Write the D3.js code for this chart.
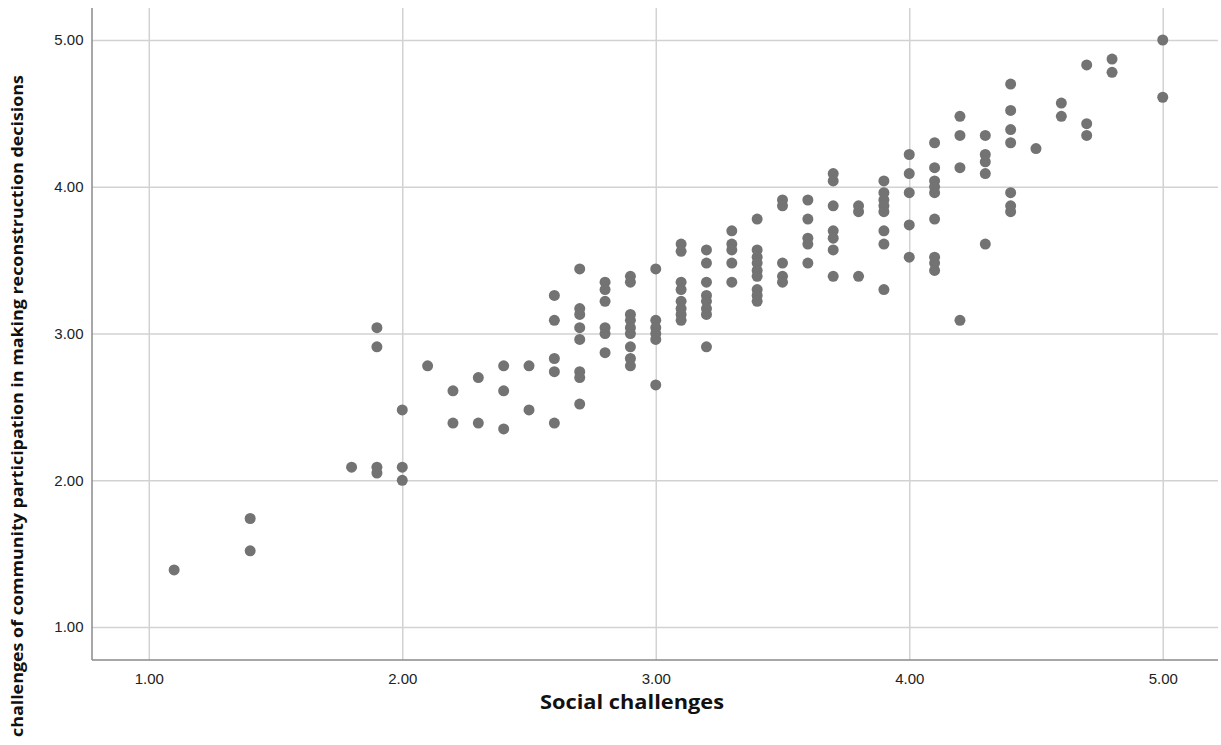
<!DOCTYPE html>
<html>
<head>
<meta charset="utf-8">
<script src="https://cdn.jsdelivr.net/npm/d3@7/dist/d3.min.js"></script>
<style>
  html, body { margin: 0; padding: 0; background: #fff; }
  svg { display: block; }
</style>
</head>
<body>
<svg id="chart" width="1221" height="745"></svg>
<script>
// Social challenges (x) and challenges of community participation (y)
const socialChallenges = [
  1.1,
  1.4, 1.4,
  1.8,
  1.9, 1.9, 1.9, 1.9,
  2.0, 2.0, 2.0,
  2.1,
  2.2, 2.2,
  2.3, 2.3,
  2.4, 2.4, 2.4,
  2.5, 2.5,
  2.6, 2.6, 2.6, 2.6, 2.6,
  2.7, 2.7, 2.7, 2.7, 2.7, 2.7, 2.7, 2.7,
  2.8, 2.8, 2.8, 2.8, 2.8, 2.8,
  2.9, 2.9, 2.9, 2.9, 2.9, 2.9, 2.9, 2.9, 2.9,
  3.0, 3.0, 3.0, 3.0, 3.0, 3.0,
  3.1, 3.1, 3.1, 3.1, 3.1, 3.1, 3.1, 3.1,
  3.2, 3.2, 3.2, 3.2, 3.2, 3.2, 3.2, 3.2,
  3.3, 3.3, 3.3, 3.3, 3.3,
  3.4, 3.4, 3.4, 3.4, 3.4, 3.4, 3.4, 3.4, 3.4,
  3.5, 3.5, 3.5, 3.5, 3.5,
  3.6, 3.6, 3.6, 3.6, 3.6,
  3.7, 3.7, 3.7, 3.7, 3.7, 3.7, 3.7,
  3.8, 3.8, 3.8,
  3.9, 3.9, 3.9, 3.9, 3.9, 3.9, 3.9, 3.9,
  4.0, 4.0, 4.0, 4.0, 4.0,
  4.1, 4.1, 4.1, 4.1, 4.1, 4.1, 4.1, 4.1, 4.1,
  4.2, 4.2, 4.2, 4.2,
  4.3, 4.3, 4.3, 4.3, 4.3,
  4.4, 4.4, 4.4, 4.4, 4.4, 4.4, 4.4,
  4.5,
  4.6, 4.6,
  4.7, 4.7, 4.7,
  4.8, 4.8,
  5.0, 5.0
];
const participationChallenges = [
  1.39,
  1.74, 1.52,
  2.09,
  3.04, 2.91, 2.09, 2.05,
  2.48, 2.09, 2.00,
  2.78,
  2.61, 2.39,
  2.70, 2.39,
  2.78, 2.61, 2.35,
  2.78, 2.48,
  3.26, 3.09, 2.83, 2.74, 2.39,
  3.44, 3.17, 3.13, 3.04, 2.96, 2.74, 2.70, 2.52,
  3.35, 3.30, 3.22, 3.04, 3.00, 2.87,
  3.39, 3.35, 3.13, 3.09, 3.04, 3.00, 2.91, 2.83, 2.78,
  3.44, 3.09, 3.04, 3.00, 2.96, 2.65,
  3.61, 3.56, 3.35, 3.30, 3.22, 3.17, 3.13, 3.09,
  3.57, 3.48, 3.35, 3.26, 3.22, 3.17, 3.13, 2.91,
  3.70, 3.61, 3.57, 3.48, 3.35,
  3.78, 3.57, 3.52, 3.48, 3.43, 3.39, 3.30, 3.26, 3.22,
  3.91, 3.87, 3.48, 3.39, 3.35,
  3.91, 3.78, 3.65, 3.61, 3.48,
  4.09, 4.04, 3.87, 3.70, 3.65, 3.57, 3.39,
  3.87, 3.83, 3.39,
  4.04, 3.96, 3.91, 3.87, 3.83, 3.70, 3.61, 3.30,
  4.22, 4.09, 3.96, 3.74, 3.52,
  4.30, 4.13, 4.04, 4.00, 3.96, 3.78, 3.52, 3.48, 3.43,
  4.48, 4.35, 4.13, 3.09,
  4.35, 4.22, 4.17, 4.09, 3.61,
  4.70, 4.52, 4.39, 4.30, 3.96, 3.87, 3.83,
  4.26,
  4.57, 4.48,
  4.83, 4.43, 4.35,
  4.87, 4.78,
  5.00, 4.61
];
const xTicks = [1, 2, 3, 4, 5];
const yTicks = [1, 2, 3, 4, 5];
const xTitle = "Social challenges";
const yTitle = "challenges of community participation in making reconstruction decisions";

const svg = d3.select("#chart");
const plot = { left: 92, right: 1218, top: 8, bottom: 660 };

const x = d3.scaleLinear().domain([0.776, 5.218]).range([plot.left, plot.right]);
const y = d3.scaleLinear().domain([0.776, 5.218]).range([plot.bottom, plot.top]);

// gridlines
const gridColor = "#d2d2d2";
svg.append("g")
  .attr("transform", `translate(0,${plot.bottom})`)
  .call(d3.axisBottom(x).tickValues(xTicks).tickSize(-(plot.bottom - plot.top)).tickFormat(""))
  .call(g => g.select(".domain").remove())
  .call(g => g.selectAll("line").attr("stroke", gridColor).attr("stroke-width", 1.5));
svg.append("g")
  .attr("transform", `translate(${plot.left},0)`)
  .call(d3.axisLeft(y).tickValues(yTicks).tickSize(-(plot.right - plot.left)).tickFormat(""))
  .call(g => g.select(".domain").remove())
  .call(g => g.selectAll("line").attr("stroke", gridColor).attr("stroke-width", 1.5));

// axis tick labels
const tickFont = "Liberation Sans, Arial, sans-serif";
const xAxis = svg.append("g")
  .attr("transform", `translate(0,${plot.bottom})`)
  .call(d3.axisBottom(x).tickValues(xTicks).tickSize(0).tickPadding(13).tickFormat(d3.format(".2f")));
xAxis.select(".domain").remove();
xAxis.selectAll("text").attr("font-family", tickFont).attr("font-size", 15).attr("fill", "#222");

const yAxis = svg.append("g")
  .attr("transform", `translate(${plot.left},0)`)
  .call(d3.axisLeft(y).tickValues(yTicks).tickSize(0).tickPadding(8.5).tickFormat(d3.format(".2f")));
yAxis.select(".domain").remove();
yAxis.selectAll("text").attr("font-family", tickFont).attr("font-size", 15).attr("fill", "#222");

// axis frame lines
svg.append("line")
  .attr("x1", plot.left).attr("x2", plot.left)
  .attr("y1", plot.top).attr("y2", plot.bottom)
  .attr("stroke", "#8a8a8a").attr("stroke-width", 1.5);
svg.append("line")
  .attr("x1", plot.left).attr("x2", plot.right)
  .attr("y1", plot.bottom).attr("y2", plot.bottom)
  .attr("stroke", "#8a8a8a").attr("stroke-width", 1.5);

// points
svg.append("g")
  .selectAll("circle")
  .data(d3.range(socialChallenges.length))
  .join("circle")
  .attr("cx", i => x(socialChallenges[i]))
  .attr("cy", i => y(participationChallenges[i]))
  .attr("r", 5.5)
  .attr("fill", "#737373");

// titles
svg.append("text")
  .attr("x", 632).attr("y", 709)
  .attr("text-anchor", "middle")
  .attr("font-family", "Open Sans, sans-serif")
  .attr("font-weight", 700)
  .attr("font-size", 19.5)
  .attr("textLength", 184)
  .attr("lengthAdjust", "spacingAndGlyphs")
  .attr("fill", "#111")
  .text(xTitle);

svg.append("text")
  .attr("transform", "translate(23,406) rotate(-90)")
  .attr("text-anchor", "middle")
  .attr("font-family", "Open Sans, sans-serif")
  .attr("font-weight", 700)
  .attr("font-size", 16.5)
  .attr("textLength", 662)
  .attr("lengthAdjust", "spacingAndGlyphs")
  .attr("fill", "#111")
  .text(yTitle);
</script>
</body>
</html>
